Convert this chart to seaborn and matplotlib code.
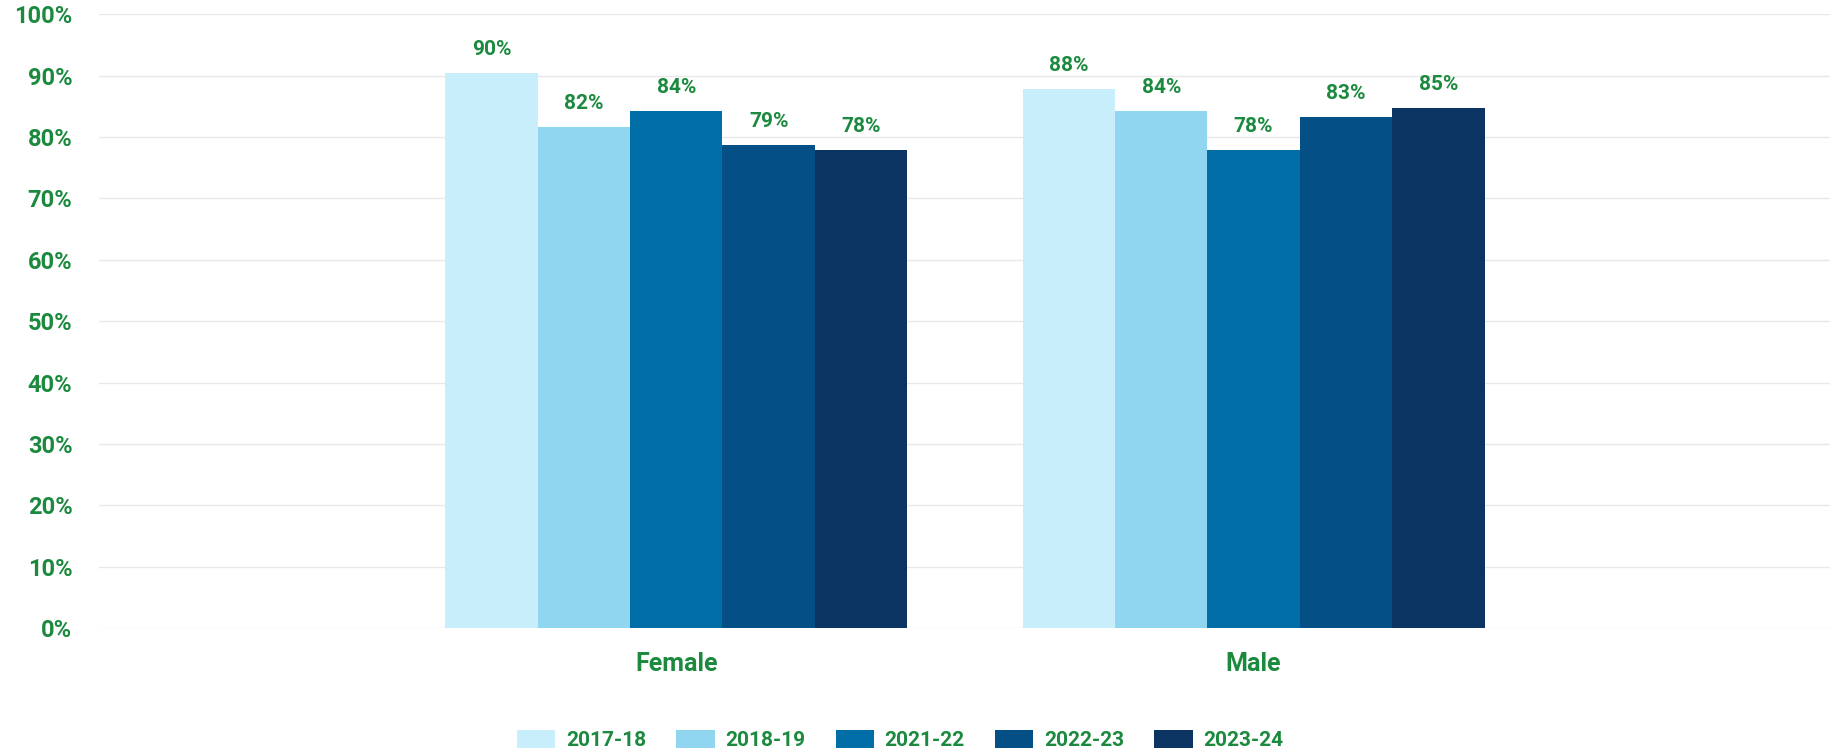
import pandas as pd
import seaborn as sns
import matplotlib.pyplot as plt
from matplotlib.ticker import PercentFormatter

# Data
genders = ["Female", "Male"]
years = ["2017-18", "2018-19", "2021-22", "2022-23", "2023-24"]
female_vals = [90.4, 81.6, 84.2, 78.7, 77.9]
male_vals = [87.8, 84.2, 77.9, 83.3, 84.8]
colors = ["#c9eefb", "#91d6f0", "#026ea8", "#034f86", "#0c3462"]
green = "#1b8a3e"

df = pd.DataFrame({
    "gender": [g for g in genders for _ in years],
    "year": years * 2,
    "value": female_vals + male_vals,
})

sns.set_theme(style="white")
plt.rcParams['font.family'] = ['Roboto', 'DejaVu Sans']

fig = plt.figure(figsize=(18.31, 7.55), dpi=100)
ax = fig.add_axes([0.054, 0.168, 0.946, 0.813])

sns.barplot(data=df, x="gender", y="value", hue="year", hue_order=years,
            palette=colors, width=0.8, saturation=1, ax=ax, linewidth=0)

for cont in ax.containers:
    ax.bar_label(cont, labels=[f"{v:.0f}%" for v in cont.datavalues],
                 padding=10, color=green, fontsize=15, fontweight="bold")

ax.set_xlim(-1, 2)
ax.set_ylim(0, 100)
ax.set_yticks(range(0, 101, 10))
ax.yaxis.set_major_formatter(PercentFormatter(decimals=0))
ax.grid(axis="y", color="#e8e8e8", linewidth=1)
ax.set_axisbelow(True)
sns.despine(ax=ax, left=True, bottom=True)
ax.set_xlabel("")
ax.set_ylabel("")
ax.tick_params(axis="y", length=0, pad=19, labelsize=17, labelcolor=green)
ax.tick_params(axis="x", length=0, pad=17, labelsize=18, labelcolor=green)
for lbl in ax.get_xticklabels() + ax.get_yticklabels():
    lbl.set_fontweight("bold")

# legend sits a bit left of the axes centre, at the bottom
ax.legend(loc="center", bbox_to_anchor=(0.4625, -0.182),
          ncol=5, frameon=False, handlelength=1.85, handleheight=1.0,
          columnspacing=1.45, handletextpad=0.5,
          prop={"weight": "bold", "size": 15})
for t in ax.get_legend().get_texts():
    t.set_color(green)

fig.savefig("out.png", dpi=100)
